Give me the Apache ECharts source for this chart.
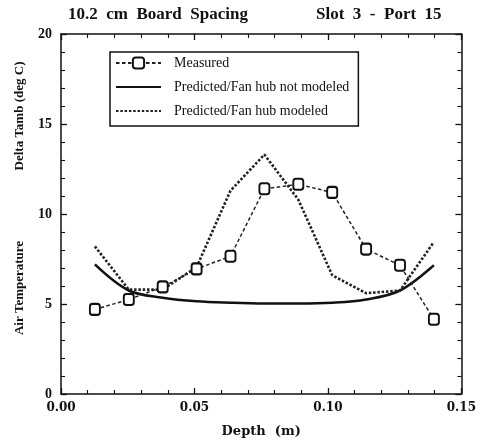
<!DOCTYPE html>
<html>
<head>
<meta charset="utf-8">
<script src="https://cdn.jsdelivr.net/npm/echarts@6/dist/echarts.min.js"></script>
<style>
  html, body { margin: 0; padding: 0; background: #fff; }
  #chart { width: 479px; height: 445px; }
</style>
</head>
<body>
<div id="chart"></div>
<script>
// Measurement stations across the board gap (half-inch steps, metres)
const depth = [0.0127, 0.0254, 0.0381, 0.0508, 0.0635, 0.0762, 0.0889, 0.1016, 0.1143, 0.127, 0.1397];
// Air temperature rise, deg C
const measured = [4.7, 5.25, 5.95, 6.95, 7.65, 11.4, 11.65, 11.2, 8.05, 7.15, 4.15];
const predictedNoHub = [7.2, 5.75, 5.35, 5.15, 5.07, 5.03, 5.03, 5.07, 5.25, 5.75, 7.15];
const predictedHub = [8.2, 5.8, 5.8, 7.05, 11.3, 13.3, 10.8, 6.6, 5.6, 5.75, 8.45];

const seriesNames = ['Measured', 'Predicted/Fan hub not modeled', 'Predicted/Fan hub modeled'];
const xTicks = { min: 0, max: 0.15, interval: 0.05 };
const yTicks = { min: 0, max: 20, interval: 5 };

const pairs = (ys) => depth.map((x, i) => [x, ys[i]]);

const boldSerif = 'Liberation Serif';
const wideSerif = 'DejaVu Serif';

function axisCommon(showLabel, isX) {
  return {
    axisLine: { show: true, onZero: false, lineStyle: { color: '#111', width: 1.5 } },
    axisTick: { show: true, inside: true, length: 6, lineStyle: { color: '#111', width: 1.3 } },
    minorTick: { show: true, splitNumber: 5, length: 4, lineStyle: { color: '#111', width: 1.1 } },
    splitLine: { show: false },
    minorSplitLine: { show: false },
    axisLabel: showLabel ? (isX ? {
      color: '#111', fontFamily: wideSerif, fontWeight: 'bold', fontSize: 12, margin: 8,
      formatter: (v) => v.toFixed(2)
    } : {
      color: '#111', fontFamily: boldSerif, fontWeight: 'bold', fontSize: 14, margin: 9
    }) : { show: false }
  };
}

const chart = echarts.init(document.getElementById('chart'), null, { renderer: 'canvas' });

chart.setOption({
  backgroundColor: '#fff',
  animation: false,
  grid: { left: 61, right: 17, top: 34, bottom: 51 },
  xAxis: [
    Object.assign({
      type: 'value', position: 'bottom', min: xTicks.min, max: xTicks.max, interval: xTicks.interval,
      name: 'Depth  (m)', nameLocation: 'middle', nameGap: 31,
      nameTextStyle: { color: '#111', fontFamily: wideSerif, fontWeight: 'bold', fontSize: 13 }
    }, axisCommon(true, true)),
    Object.assign({
      type: 'value', position: 'top', min: xTicks.min, max: xTicks.max, interval: xTicks.interval
    }, axisCommon(false, true))
  ],
  yAxis: [
    Object.assign({
      type: 'value', position: 'left', min: yTicks.min, max: yTicks.max, interval: yTicks.interval
    }, axisCommon(true, false)),
    Object.assign({
      type: 'value', position: 'right', min: yTicks.min, max: yTicks.max, interval: yTicks.interval
    }, axisCommon(false, false))
  ],
  legend: {
    data: [
      { name: seriesNames[0] },
      // line-only keys: hide the marker the line icon would otherwise carry
      { name: seriesNames[1], itemStyle: { opacity: 0 } },
      { name: seriesNames[2], itemStyle: { opacity: 0 } }
    ],
    orient: 'vertical',
    left: 110,
    top: 52,
    padding: [4, 9, 8, 5],
    itemWidth: 45,
    itemHeight: 14,
    itemGap: 10,
    borderColor: '#111',
    borderWidth: 1.5,
    borderRadius: 0,
    backgroundColor: '#fff',
    textStyle: {
      color: '#111', fontFamily: 'Liberation Serif', fontSize: 14, lineHeight: 14,
      padding: [0, 0, 0, 8]
    }
  },
  graphic: [
    {
      type: 'text', left: 68, top: 6,
      style: { text: '10.2  cm  Board  Spacing', fill: '#111', font: 'bold 17px "Liberation Serif"' }
    },
    {
      type: 'text', left: 316, top: 6,
      style: { text: 'Slot  3  -  Port  15', fill: '#111', font: 'bold 17px "Liberation Serif"' }
    },
    {
      type: 'text', x: 20, y: 116, rotation: Math.PI / 2,
      style: { text: 'Delta Tamb (deg C)', fill: '#111', font: 'bold 13px "Liberation Serif"',
               align: 'center', verticalAlign: 'middle' }
    },
    {
      type: 'text', x: 20, y: 288, rotation: Math.PI / 2,
      style: { text: 'Air Temperature', fill: '#111', font: 'bold 13px "Liberation Serif"',
               align: 'center', verticalAlign: 'middle' }
    }
  ],
  series: [
    {
      name: seriesNames[1],
      type: 'line',
      data: pairs(predictedNoHub),
      smooth: 0.35,
      symbol: 'none',
      lineStyle: { color: '#111', width: 2.6, type: 'solid' },
      itemStyle: { color: '#111' },
      z: 2
    },
    {
      name: seriesNames[2],
      type: 'line',
      data: pairs(predictedHub),
      symbol: 'none',
      lineStyle: { color: '#222', width: 2.6, type: [2.5, 1.8] },
      itemStyle: { color: '#222' },
      z: 3
    },
    {
      name: seriesNames[0],
      type: 'line',
      data: pairs(measured),
      symbol: 'roundRect',
      symbolSize: [10, 11],
      showSymbol: true,
      lineStyle: { color: '#222', width: 1.5, type: [3.5, 2.5] },
      itemStyle: { color: '#fff', borderColor: '#111', borderWidth: 2 },
      z: 4
    }
  ]
});
</script>
</body>
</html>
